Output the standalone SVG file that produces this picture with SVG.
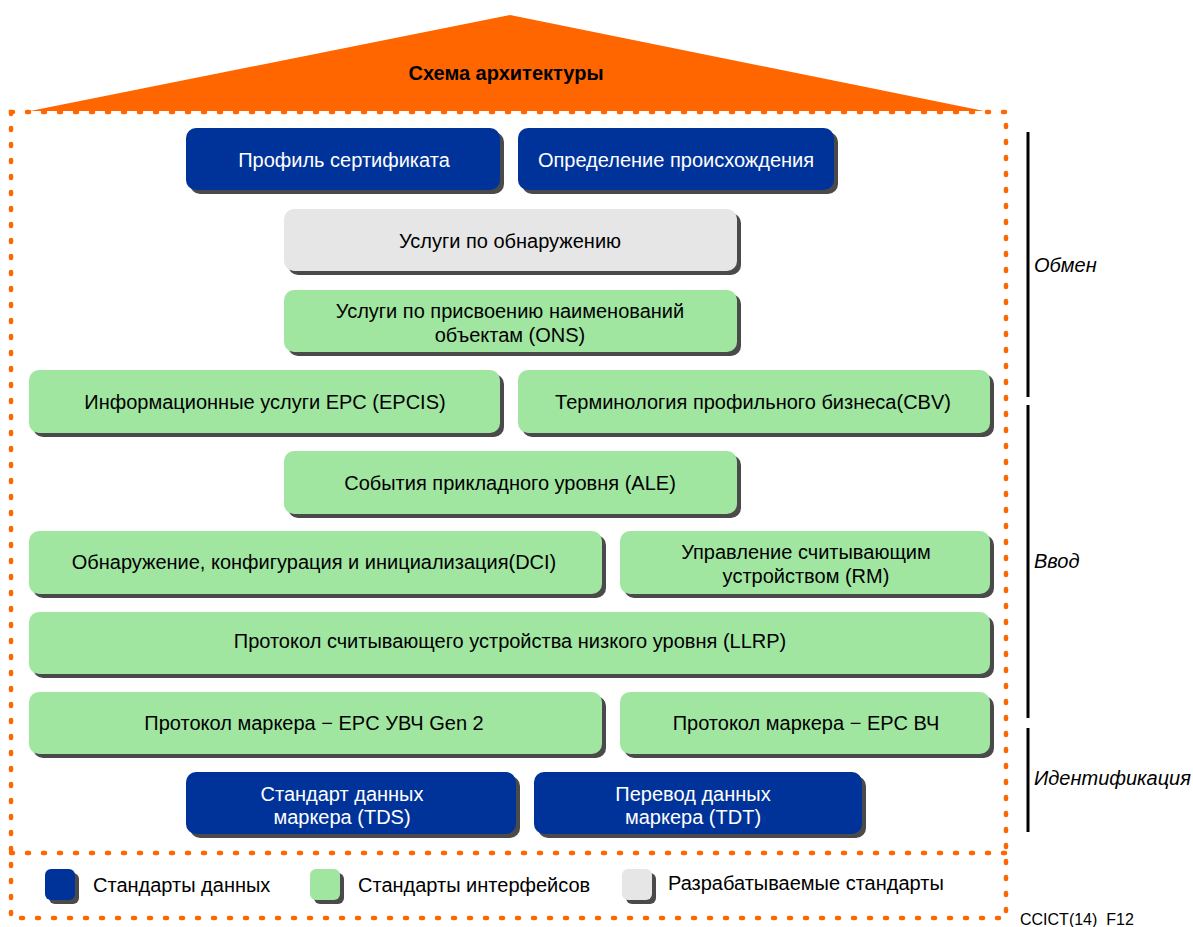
<svg xmlns="http://www.w3.org/2000/svg" width="1193" height="927" viewBox="0 0 1193 927">
<defs>
<style>
.sh{fill:#4a4a4a}
.blue{fill:#003399}
.green{fill:#a0e6a0}
.gray{fill:#e6e6e6}
text{font-family:"Liberation Sans",Arial,sans-serif;font-size:20px;text-anchor:middle}
.wt{fill:#ffffff}
.bt{fill:#000000}
.side{font-style:italic;text-anchor:start}
.leg{text-anchor:start}
.dot{fill:none;stroke:#ff6600;stroke-width:4.5;stroke-linecap:round;stroke-dasharray:2 14}
.bar{stroke:#000;stroke-width:3}
</style>
</defs>
<rect width="1193" height="927" fill="#ffffff"/>
<g id="roof">
<polygon points="30,111 510,15 984,111" fill="#ff6600"/>
<text x="506" y="80" style="font-weight:bold" class="bt">Схема архитектуры</text>
</g>
<g id="frame">
<rect x="11" y="112" width="995" height="806" class="dot"/>
<line x1="11" y1="853" x2="1006" y2="853" class="dot"/>
</g>
<g id="n1"><rect x="190" y="132" width="314" height="62" rx="10" class="sh"/><rect x="186" y="128" width="314" height="62" rx="10" class="blue"/><text x="344" y="167" class="wt">Профиль сертификата</text></g>
<g id="n2"><rect x="522" y="132" width="316" height="62" rx="10" class="sh"/><rect x="518" y="128" width="316" height="62" rx="10" class="blue"/><text x="676" y="167" class="wt">Определение происхождения</text></g>
<g id="n3"><rect x="288" y="213" width="453" height="62" rx="10" class="sh"/><rect x="284" y="209" width="453" height="62" rx="10" class="gray"/><text x="510" y="248" class="bt">Услуги по обнаружению</text></g>
<g id="n4"><rect x="288" y="294" width="453" height="62" rx="10" class="sh"/><rect x="284" y="290" width="453" height="62" rx="10" class="green"/><text x="510" y="318" class="bt">Услуги по присвоению наименований</text><text x="510" y="342" class="bt">объектам (ONS)</text></g>
<g id="n5"><rect x="33" y="374" width="471" height="63" rx="10" class="sh"/><rect x="29" y="370" width="471" height="63" rx="10" class="green"/><text x="265" y="409" class="bt">Информационные услуги EPC (EPCIS)</text></g>
<g id="n6"><rect x="522" y="374" width="472" height="63" rx="10" class="sh"/><rect x="518" y="370" width="472" height="63" rx="10" class="green"/><text x="753" y="409" class="bt">Терминология профильного бизнеса(CBV)</text></g>
<g id="n7"><rect x="288" y="455" width="453" height="63" rx="10" class="sh"/><rect x="284" y="451" width="453" height="63" rx="10" class="green"/><text x="510" y="490" class="bt">События прикладного уровня (ALE)</text></g>
<g id="n8"><rect x="33" y="535" width="573" height="63" rx="10" class="sh"/><rect x="29" y="531" width="573" height="63" rx="10" class="green"/><text x="314" y="569" class="bt">Обнаружение, конфигурация и инициализация(DCI)</text></g>
<g id="n9"><rect x="624" y="535" width="370" height="63" rx="10" class="sh"/><rect x="620" y="531" width="370" height="63" rx="10" class="green"/><text x="806" y="559" class="bt">Управление считывающим</text><text x="806" y="583" class="bt">устройством  (RM)</text></g>
<g id="n10"><rect x="33" y="616" width="961" height="62" rx="10" class="sh"/><rect x="29" y="612" width="961" height="62" rx="10" class="green"/><text x="510" y="648" class="bt">Протокол считывающего устройства низкого уровня  (LLRP)</text></g>
<g id="n11"><rect x="33" y="696" width="573" height="62" rx="10" class="sh"/><rect x="29" y="692" width="573" height="62" rx="10" class="green"/><text x="314" y="730" class="bt">Протокол маркера − EPC УВЧ Gen 2</text></g>
<g id="n12"><rect x="624" y="696" width="370" height="62" rx="10" class="sh"/><rect x="620" y="692" width="370" height="62" rx="10" class="green"/><text x="806" y="730" class="bt">Протокол маркера − EPC ВЧ</text></g>
<g id="n13"><rect x="190" y="776" width="330" height="62" rx="10" class="sh"/><rect x="186" y="772" width="330" height="62" rx="10" class="blue"/><text x="342" y="801" class="wt">Стандарт данных</text><text x="342" y="824" class="wt">маркера (TDS)</text></g>
<g id="n14"><rect x="538" y="776" width="328" height="62" rx="10" class="sh"/><rect x="534" y="772" width="328" height="62" rx="10" class="blue"/><text x="693" y="801" class="wt">Перевод данных</text><text x="693" y="824" class="wt">маркера (TDT)</text></g>
<g id="side">
<line x1="1028" y1="132" x2="1028" y2="397" class="bar"/>
<line x1="1028" y1="405" x2="1028" y2="718" class="bar"/>
<line x1="1028" y1="728" x2="1028" y2="832" class="bar"/>
<text x="1034" y="272" class="side">Обмен</text>
<text x="1034" y="568" class="side">Ввод</text>
<text x="1034" y="785" class="side">Идентификация</text>
</g>
<g id="legend">
<rect x="49" y="873" width="30" height="31" rx="6" class="sh"/><rect x="45" y="869" width="30" height="31" rx="6" class="blue"/><text x="93" y="892" class="leg bt">Стандарты данных</text>
<rect x="314" y="873" width="30" height="31" rx="6" class="sh"/><rect x="310" y="869" width="30" height="31" rx="6" class="green"/><text x="358" y="892" class="leg bt">Стандарты интерфейсов</text>
<rect x="626" y="873" width="30" height="31" rx="6" class="sh"/><rect x="622" y="869" width="30" height="31" rx="6" class="gray"/><text x="668" y="890" class="leg bt">Разрабатываемые стандарты</text>
</g>
<text x="1020" y="925" class="leg bt" style="font-size:16px">CCICT(14)_F12</text>
</svg>
